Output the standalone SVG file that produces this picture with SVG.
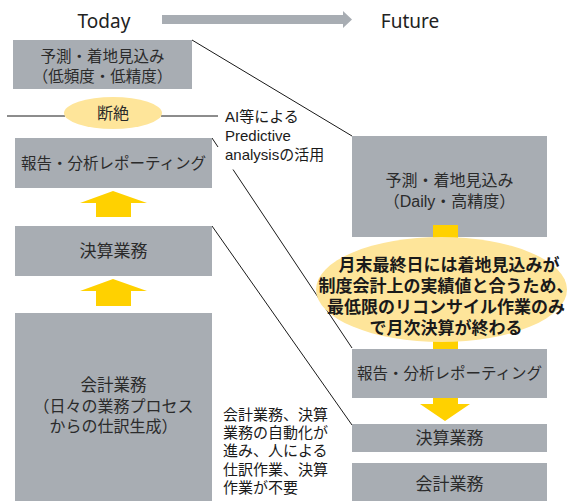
<svg xmlns="http://www.w3.org/2000/svg" width="576" height="501" viewBox="0 0 576 501">
<style>
.box{fill:#A8ADB3}
.t{font-family:"Liberation Sans","Noto Sans CJK JP",sans-serif;fill:#2b2b2b;text-anchor:middle}
.s{font-family:"Liberation Sans","Noto Sans CJK JP",sans-serif;fill:#1a1a1a;font-size:15px}
.b{font-family:"Liberation Sans","Noto Sans CJK JP",sans-serif;fill:#1a1a1a;font-size:17px;font-weight:bold;text-anchor:middle}
.h{font-family:"Noto Sans","DejaVu Sans",sans-serif;fill:#222;font-size:19px;text-anchor:middle}
.ln{stroke:#1a1a1a;stroke-width:1;fill:none}
.ya{fill:#FFD100}
.ye{fill:#FEE59A}
</style>
<g id="header">
<text class="h" x="104" y="28">Today</text>
<text class="h" x="410" y="28">Future</text>
<polygon fill="#A8ADB3" points="162,15 343,15 343,11 352,19.5 343,28 343,24 162,24"/>
</g>
<g id="connectors">
<line class="ln" x1="192" y1="40" x2="352" y2="136"/>
<line class="ln" x1="7" y1="116" x2="65" y2="116"/>
<line class="ln" x1="161" y1="116" x2="218" y2="116"/>
<line class="ln" x1="212" y1="138" x2="218" y2="147"/>
<line class="ln" x1="233" y1="169.5" x2="352" y2="348"/>
<line class="ln" x1="212" y1="226" x2="352" y2="425"/>
</g>
<g id="today-forecast">
<rect class="box" x="13" y="40" width="179" height="49"/>
<text class="t" font-size="15.5" x="102.5" y="62">予測・着地見込み<tspan x="102.5" dy="20">（低頻度・低精度）</tspan></text>
</g>
<g id="gap">
<ellipse class="ye" cx="113" cy="113" rx="49" ry="16"/>
<text class="t" font-size="16" x="113" y="119">断絶</text>
</g>
<g id="ai-note">
<text class="s" x="225" y="122">AI等による<tspan x="225" dy="19">Predictive</tspan><tspan x="225" dy="19">analysisの活用</tspan></text>
</g>
<g id="today-report">
<rect class="box" x="15" y="138" width="197" height="50"/>
<text class="t" font-size="15.5" x="113.5" y="169">報告・分析レポーティング</text>
</g>
<g id="arrow-up-1">
<polygon class="ya" points="113,191 147,203 131,203 131,217 96,217 96,203 80,203"/>
</g>
<g id="today-closing">
<rect class="box" x="15" y="226" width="197" height="50"/>
<text class="t" font-size="17" x="113.5" y="257">決算業務</text>
</g>
<g id="arrow-up-2">
<polygon class="ya" points="113,279 147,291 131,291 131,306 96,306 96,291 80,291"/>
</g>
<g id="today-accounting">
<rect class="box" x="15" y="313" width="197" height="188"/>
<text class="t" font-size="16" x="113.5" y="391"><tspan font-size="16.5">会計業務</tspan><tspan x="113.5" dy="21">（日々の業務プロセス</tspan><tspan x="113.5" dy="20">からの仕訳生成）</tspan></text>
</g>
<g id="automation-note">
<text class="s" x="223" y="420">会計業務、決算<tspan x="223" dy="18.2">業務の自動化が</tspan><tspan x="223" dy="18.2">進み、人による</tspan><tspan x="223" dy="18.2">仕訳作業、決算</tspan><tspan x="223" dy="18.2">作業が不要</tspan></text>
</g>
<g id="future-forecast">
<rect class="box" x="352" y="136" width="195" height="101"/>
<text class="t" font-size="16" x="449.5" y="186">予測・着地見込み<tspan x="449.5" dy="21">（Daily・高精度）</tspan></text>
</g>
<g id="future-shaft">
<rect class="ya" x="433" y="225" width="25" height="125"/>
</g>
<g id="future-note">
<ellipse class="ye" cx="441.5" cy="289.5" rx="125.5" ry="52.5"/>
<text class="b" x="449" y="271">月末最終日には着地見込みが<tspan x="446" dy="21">制度会計上の実績値と合うため、</tspan><tspan x="446" dy="21">最低限のリコンサイル作業のみ</tspan><tspan x="446" dy="21">で月次決算が終わる</tspan></text>
</g>
<g id="future-report">
<rect class="box" x="352" y="349" width="195" height="49"/>
<text class="t" font-size="15.5" x="449.5" y="379">報告・分析レポーティング</text>
</g>
<g id="arrow-down">
<polygon class="ya" points="433,398 458,398 458,404 470,404 445,421 420,404 433,404"/>
</g>
<g id="future-closing">
<rect class="box" x="352" y="424" width="195" height="28"/>
<text class="t" font-size="17" x="449.5" y="444">決算業務</text>
</g>
<g id="future-accounting">
<rect class="box" x="352" y="463" width="195" height="38"/>
<text class="t" font-size="17" x="449.5" y="490">会計業務</text>
</g>
</svg>
